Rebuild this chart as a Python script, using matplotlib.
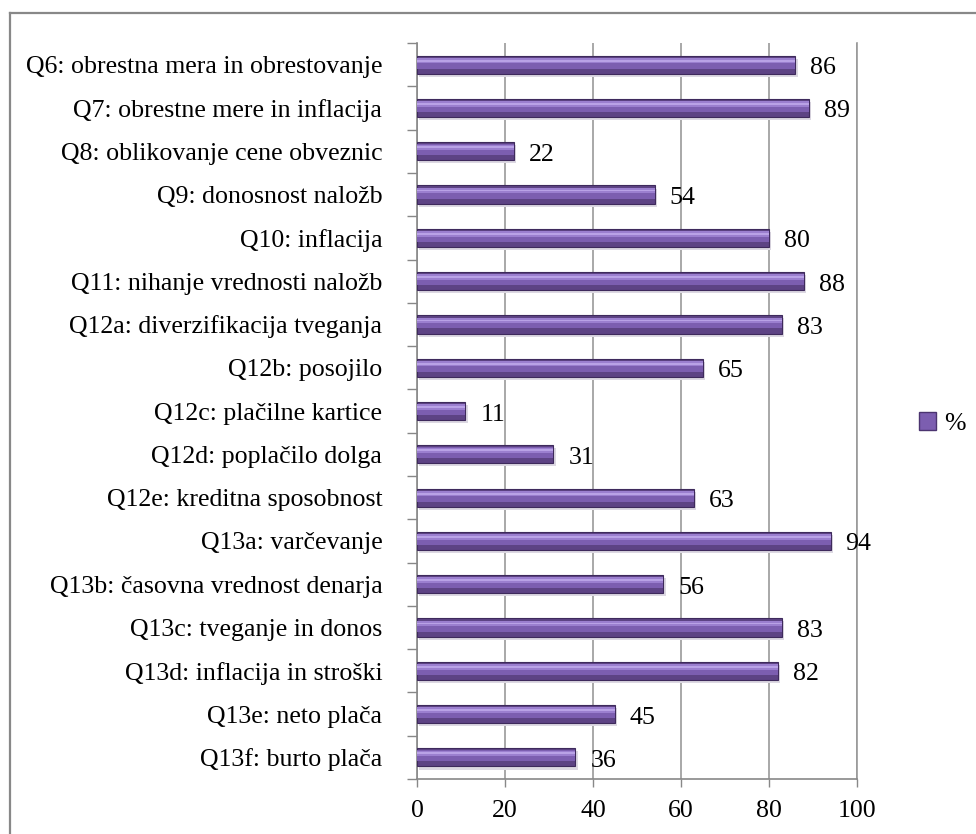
import matplotlib
matplotlib.use("Agg")
import matplotlib.pyplot as plt
from matplotlib.lines import Line2D
from matplotlib.patches import Patch

plt.rcParams['font.family'] = ['Liberation Serif', 'DejaVu Serif']

categories = [
    "Q6: obrestna mera in obrestovanje",
    "Q7: obrestne mere in inflacija",
    "Q8: oblikovanje cene obveznic",
    "Q9: donosnost naložb",
    "Q10: inflacija",
    "Q11: nihanje vrednosti naložb",
    "Q12a: diverzifikacija tveganja",
    "Q12b: posojilo",
    "Q12c: plačilne kartice",
    "Q12d: poplačilo dolga",
    "Q12e: kreditna sposobnost",
    "Q13a: varčevanje",
    "Q13b: časovna vrednost denarja",
    "Q13c: tveganje in donos",
    "Q13d: inflacija in stroški",
    "Q13e: neto plača",
    "Q13f: burto plača",
]
values = [86, 89, 22, 54, 80, 88, 83, 65, 11, 31, 63, 94, 56, 83, 82, 45, 36]
series_name = "%"
x_ticks = [0, 20, 40, 60, 80, 100]

FS = 18.6

fig = plt.figure(figsize=(9.76, 8.34), dpi=100)
ax = fig.add_axes([0.4273, 0.0659, 0.4508, 0.8825])

n = len(categories)
pos = list(range(n))
bar_h = 0.42

# soft shadow under each bar
ax.barh([p + 0.07 for p in pos], values, height=bar_h, left=0.5,
        color="#dcd8e2", zorder=2, linewidth=0)
# bar body with darker lower part and lighter upper bands
ax.barh(pos, values, height=bar_h, color="#5d4384", edgecolor="#3e2a5c",
        linewidth=0.8, zorder=3)
ax.barh([p - bar_h * 0.08 for p in pos], values, height=bar_h * 0.6,
        color="#7c5eb0", zorder=4, linewidth=0)
ax.barh([p - bar_h * 0.22 for p in pos], values, height=bar_h * 0.3,
        color="#9b7fcf", zorder=4, linewidth=0)
ax.barh([p - bar_h * 0.22 for p in pos], values, height=bar_h * 0.1,
        color="#b9a2e6", zorder=4, linewidth=0)

for p, v in zip(pos, values):
    ax.text(v + 3.4, p + 0.08, f"{v}", va="center", ha="left",
            fontsize=FS, color="black", zorder=5)

ax.set_xlim(0, 100)
ax.set_ylim(n - 0.5, -0.5)
ax.set_xticks(x_ticks)
ax.set_xticklabels([str(t) for t in x_ticks], fontsize=FS)
ax.set_yticks(pos)
ax.set_yticklabels(categories, fontsize=FS)
ax.tick_params(axis="y", length=0, pad=25)
ax.set_yticks([p - 0.5 for p in range(n + 1)], minor=True)
ax.tick_params(axis="y", which="minor", length=7, color="#888888", width=1)
ax.tick_params(axis="x", length=6, color="#888888", width=1, pad=9)

ax.grid(axis="x", color="#999999", linewidth=1.2, zorder=0)
ax.axvline(100, color="#999999", linewidth=1.2, zorder=0, clip_on=False)
ax.set_axisbelow(True)
for s in ["top", "right"]:
    ax.spines[s].set_visible(False)
for s in ["left", "bottom"]:
    ax.spines[s].set_color("#888888")
    ax.spines[s].set_linewidth(1.2)

handle = Patch(facecolor="#7c5eb0", edgecolor="#4b3470")
fig.legend([handle], [series_name], loc="center left",
           bbox_to_anchor=(0.942, 0.492), frameon=False, fontsize=FS,
           borderpad=0, borderaxespad=0,
           handlelength=0.65, handleheight=0.65, handletextpad=0.3)

# outer chart frame
fig.add_artist(Line2D([10 / 976, 1.0], [1 - 13 / 834, 1 - 13 / 834],
                      transform=fig.transFigure, color="#888888", linewidth=1.6))
fig.add_artist(Line2D([10 / 976, 10 / 976], [0.0, 1 - 13 / 834],
                      transform=fig.transFigure, color="#888888", linewidth=1.6))

fig.savefig("out.png", dpi=100)
